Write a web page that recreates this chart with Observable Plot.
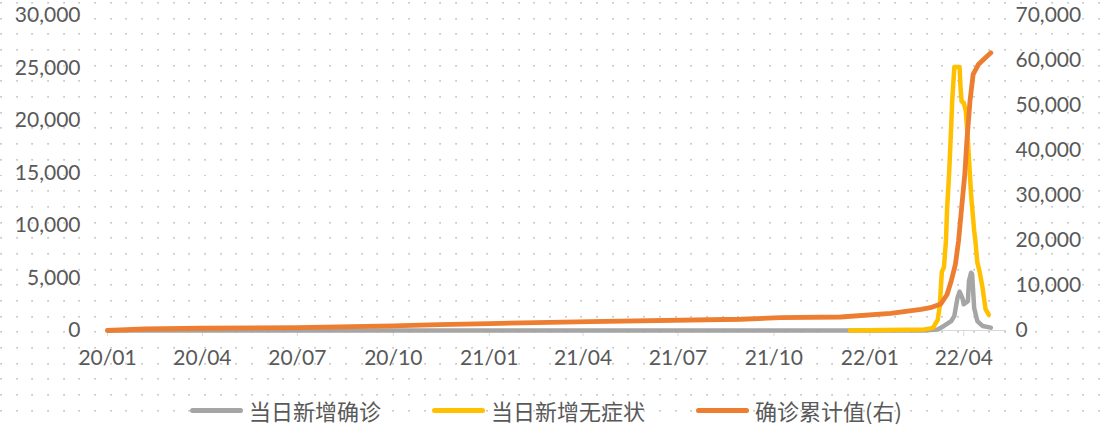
<!DOCTYPE html>
<html><head><meta charset="utf-8">
<script src="https://cdn.jsdelivr.net/npm/d3@7"></script>
<script src="https://cdn.jsdelivr.net/npm/@observablehq/plot@0.6"></script>
<style>
html,body{margin:0;padding:0;background:#fff;}
#wrap{position:relative;width:1109px;height:426px;overflow:hidden;
 background-image:url("data:image/svg+xml,%3Csvg xmlns='http://www.w3.org/2000/svg' width='15.7' height='15.7'%3E%3Crect x='0.2' y='1.9' width='1.7' height='1.7' fill='%23c6c6c6'/%3E%3C/svg%3E");
 background-size:15.7px 15.7px;}
#chart svg{display:block;background:transparent;}
#legend{position:absolute;left:0;top:396px;height:28px;width:1109px;display:flex;justify-content:flex-start;align-items:center;
 padding-left:190px;box-sizing:border-box;gap:51px;
 font-family:"Noto Sans CJK SC",sans-serif;font-size:22px;line-height:28px;color:#595959;}
#legend .item{display:flex;align-items:center;white-space:nowrap;}
#legend .sw{display:inline-block;width:53px;height:5px;border-radius:3px;margin-right:6px;}
</style>
</head><body>
<div id="wrap"><div id="chart"></div><div id="legend"></div></div>
<script>
// ---- data ----
const seriesNames = ["当日新增确诊", "当日新增无症状", "确诊累计值(右)"];
const seriesColors = ["#A5A5A5", "#FFC000", "#ED7D31"];

const xTickDates = ["2020-01-20","2020-04-20","2020-07-20","2020-10-20","2021-01-20","2021-04-20","2021-07-20","2021-10-20","2022-01-20","2022-04-20"];
const xTickLabels = ["20/01","20/04","20/07","20/10","21/01","21/04","21/07","21/10","22/01","22/04"];
const leftTicks = [0,5000,10000,15000,20000,25000,30000];
const rightTicks = [0,10000,20000,30000,40000,50000,60000,70000];

const confirmedDates = ["2020-01-20","2022-03-13","2022-03-26","2022-04-01","2022-04-08","2022-04-11","2022-04-14","2022-04-16","2022-04-19","2022-04-20","2022-04-24","2022-04-25","2022-04-27","2022-04-28","2022-04-30","2022-05-03","2022-05-08","2022-05-16"];
const confirmedValues = [0,0,100,430,900,1400,3100,3700,3000,2500,2800,4700,5500,5400,2150,900,430,270];

const asymDates = ["2022-01-01","2022-03-13","2022-03-19","2022-03-22","2022-03-24","2022-03-26","2022-03-28","2022-03-30","2022-04-01","2022-04-03","2022-04-04","2022-04-06","2022-04-08","2022-04-09","2022-04-11","2022-04-16","2022-04-17","2022-04-18","2022-04-20","2022-04-22","2022-04-24","2022-04-25","2022-04-27","2022-04-28","2022-04-30","2022-05-01","2022-05-03","2022-05-05","2022-05-08","2022-05-11","2022-05-13","2022-05-14"];
const asymValues = [0,100,200,300,700,1000,2300,5600,6000,8600,11500,15000,19500,22000,25100,25100,23000,21800,21700,20900,18100,16400,13000,11800,9500,8700,6500,5700,4100,2000,1700,1500];

const cumDates = ["2020-01-20","2020-02-25","2020-04-20","2020-07-20","2020-10-20","2020-12-03","2021-01-20","2021-04-27","2021-09-18","2021-10-26","2021-12-23","2022-02-09","2022-03-10","2022-03-19","2022-03-29","2022-04-04","2022-04-08","2022-04-12","2022-04-15","2022-04-18","2022-04-21","2022-04-23","2022-04-26","2022-04-29","2022-05-04","2022-05-09","2022-05-16"];
const cumValues = [0,330,500,650,1050,1290,1550,1950,2500,2850,3000,3800,4700,5060,5900,8000,11000,14700,19900,27300,34700,42100,51000,56900,59100,60200,61700];

// ---- build ----
const leftMax = 30000, rightMax = 70000, k = leftMax / rightMax;
const toRows = (ds, vs, f = 1) => ds.map((d, i) => ({date: new Date(d), value: vs[i] * f}));
const confirmed = toRows(confirmedDates, confirmedValues);
const asym = toRows(asymDates, asymValues);
const cum = toRows(cumDates, cumValues, k);
const labelByTime = new Map(xTickDates.map((d, i) => [+new Date(d), xTickLabels[i]]));
const fmt = d3.format(",");
const font = "Lato, 'Open Sans', sans-serif";

const chart = Plot.plot({
  width: 1109, height: 385,
  marginLeft: 107, marginRight: 103, marginTop: 15, marginBottom: 55,
  style: {fontFamily: font, fontSize: "21px", color: "#595959", background: "transparent", overflow: "visible"},
  x: {type: "utc", domain: [new Date("2020-01-20"), new Date("2022-05-31")], label: null},
  y: {domain: [0, leftMax], label: null},
  marks: [
    Plot.ruleY([0], {stroke: "#d9d9d9", strokeWidth: 1}),
    Plot.axisX(xTickDates.map(d => new Date(d)), {tickFormat: d => labelByTime.get(+d), tickSize: 6, tickPadding: 14, stroke: "#d9d9d9", fill: "#595959", fontSize: 21, label: null}),
    Plot.axisY(leftTicks, {anchor: "left", tickFormat: fmt, tickSize: 0, tickPadding: 27, fill: "#595959", fontSize: 21, label: null}),
    Plot.axisY(rightTicks.map(v => v * k), {anchor: "right", tickFormat: v => fmt(Math.round(v / k)), tickSize: 0, tickPadding: 9, fill: "#595959", fontSize: 21, label: null}),
    Plot.line(confirmed, {x: "date", y: "value", stroke: seriesColors[0], strokeWidth: 4.5, strokeLinejoin: "round", strokeLinecap: "round"}),
    Plot.line(asym, {x: "date", y: "value", stroke: seriesColors[1], strokeWidth: 4.5, strokeLinejoin: "round", strokeLinecap: "round"}),
    Plot.line(cum, {x: "date", y: "value", stroke: seriesColors[2], strokeWidth: 4.8, strokeLinejoin: "round", strokeLinecap: "round"})
  ]
});
document.getElementById("chart").appendChild(chart);

const legend = document.getElementById("legend");
seriesNames.forEach((name, i) => {
  const item = document.createElement("div");
  item.className = "item";
  const sw = document.createElement("span");
  sw.className = "sw";
  sw.style.background = seriesColors[i];
  item.appendChild(sw);
  item.appendChild(document.createTextNode(name));
  legend.appendChild(item);
});
</script>
</body></html>
